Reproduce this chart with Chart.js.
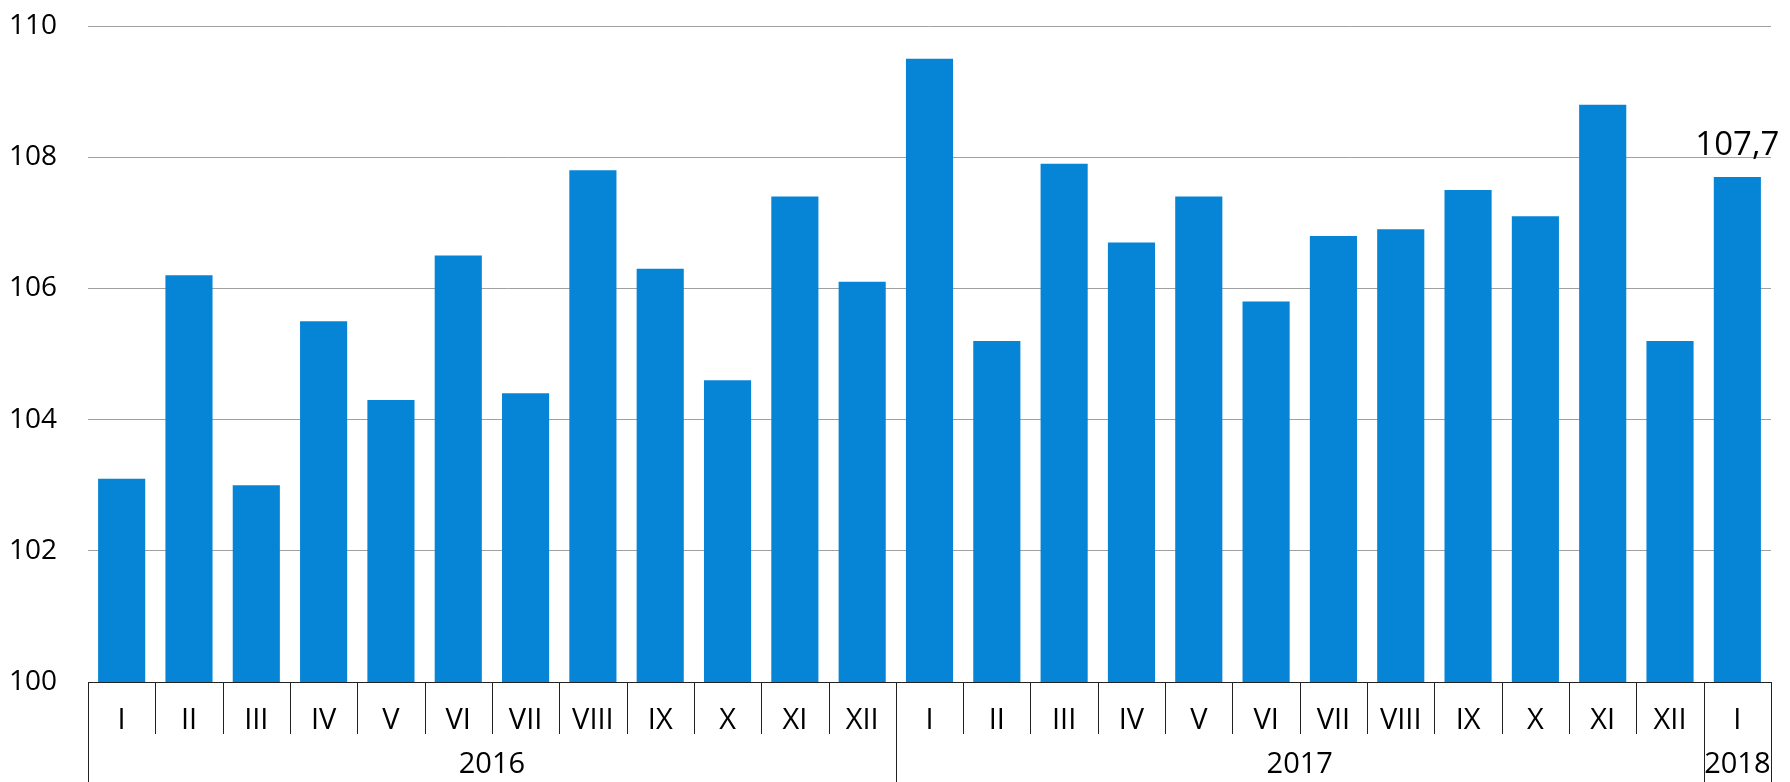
<!DOCTYPE html>
<html>
<head>
<meta charset="utf-8">
<script src="https://cdn.jsdelivr.net/npm/chart.js@4/dist/chart.umd.min.js"></script>
<style>
  html, body { margin: 0; padding: 0; background: #fff; }
  #wrap { width: 1790px; height: 782px; }
</style>
</head>
<body>
<div id="wrap"><canvas id="myChart"></canvas></div>
<script>
/* DATA */
const months = ['I', 'II', 'III', 'IV', 'V', 'VI', 'VII', 'VIII', 'IX', 'X', 'XI', 'XII',
                'I', 'II', 'III', 'IV', 'V', 'VI', 'VII', 'VIII', 'IX', 'X', 'XI', 'XII',
                'I'];
const values = [103.1, 106.2, 103.0, 105.5, 104.3, 106.5, 104.4, 107.8, 106.3, 104.6, 107.4, 106.1,
                109.5, 105.2, 107.9, 106.7, 107.4, 105.8, 106.8, 106.9, 107.5, 107.1, 108.8, 105.2,
                107.7];
// years and how many months each covers
const years = ['2016', '2017', '2018'];
const yearSpans = [12, 12, 1];
const yTicks = [100, 102, 104, 106, 108, 110];
const labelledBar = 24;

const FONT = '"Open Sans", "Noto Sans", sans-serif';

/* separators under the axis + year row */
const groupAxis = {
  id: 'groupAxis',
  afterDraw(chart) {
    const { ctx, scales: { x }, chartArea } = chart;
    const step = (x.right - x.left) / months.length;
    const base = chartArea.bottom;

    const yearEdges = [0];
    yearSpans.forEach(n => yearEdges.push(yearEdges[yearEdges.length - 1] + n));

    ctx.save();
    ctx.strokeStyle = '#222';
    ctx.lineWidth = 1;
    for (let i = 0; i <= months.length; i++) {
      const px = Math.round(x.left + i * step) + 0.5;
      ctx.beginPath();
      ctx.moveTo(px, base);
      ctx.lineTo(px, yearEdges.includes(i) ? chart.height : base + 52);
      ctx.stroke();
    }

    ctx.fillStyle = '#000';
    ctx.font = `29px ${FONT}`;
    ctx.textAlign = 'center';
    ctx.textBaseline = 'middle';
    years.forEach((y, k) => {
      const mid = x.left + (yearEdges[k] + yearEdges[k + 1]) / 2 * step;
      ctx.fillText(y, mid, 765);
    });
    ctx.restore();
  }
};

/* value above the last bar */
const barValue = {
  id: 'barValue',
  afterDatasetsDraw(chart) {
    const bar = chart.getDatasetMeta(0).data[labelledBar];
    const { ctx } = chart;
    ctx.save();
    ctx.fillStyle = '#000';
    ctx.font = `33px ${FONT}`;
    ctx.textAlign = 'center';
    ctx.textBaseline = 'alphabetic';
    ctx.fillText(String(values[labelledBar]).replace('.', ','), bar.x, bar.y - 22);
    ctx.restore();
  }
};

const data = {
  labels: months,
  datasets: [{
    data: values,
    backgroundColor: '#0684d6',
    borderWidth: 0,
    barPercentage: 0.70,
    categoryPercentage: 1,
  }],
};

const config = {
  type: 'bar',
  data,
  options: {
    responsive: true,
    maintainAspectRatio: false,
    animation: false,
    layout: { padding: { top: 26, right: 19, left: 0, bottom: 0 } },
    plugins: {
      legend: { display: false },
      tooltip: { enabled: false },
    },
    scales: {
      x: {
        grid: { display: false },
        border: { display: true, color: '#222', width: 1 },
        ticks: {
          color: '#000',
          font: { family: FONT, size: 29 },
          padding: 13,
          maxRotation: 0,
          autoSkip: false,
        },
        afterFit(scale) { scale.height = 100; },
      },
      y: {
        min: 100,
        max: 110,
        afterBuildTicks(scale) { scale.ticks = yTicks.map(v => ({ value: v })); },
        grid: { color: '#a0a0a0', lineWidth: 1, drawTicks: false },
        border: { display: false },
        ticks: {
          color: '#000',
          font: { family: FONT, size: 28 },
          padding: 31,
        },
        afterFit(scale) {
          scale.width = 88;
          scale.paddingTop = 0;
          scale.paddingBottom = 0;
        },
      },
    },
  },
  plugins: [groupAxis, barValue],
};

document.addEventListener('DOMContentLoaded', () => {
  const canvas = document.getElementById('myChart');
  new Chart(canvas.getContext('2d'), config);
});
</script>
</body>
</html>
